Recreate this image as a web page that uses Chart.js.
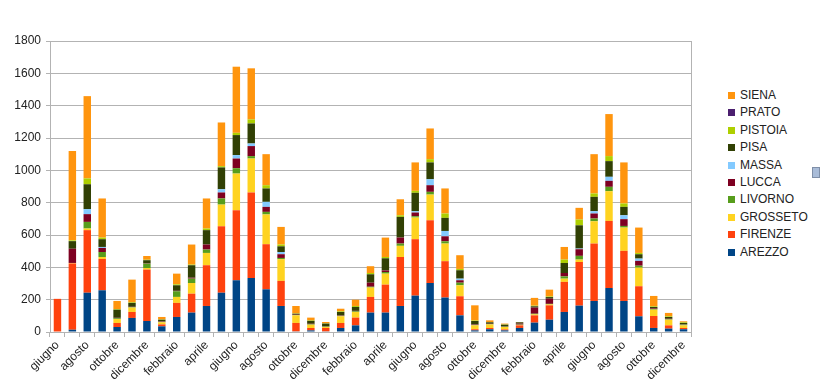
<!DOCTYPE html>
<html lang="it">
<head>
  <meta charset="UTF-8" />
  <title>Province toscane</title>
  <script src="https://cdn.jsdelivr.net/npm/chart.js"></script>
  <style>
    body {
      margin: 0;
      background: #ffffff;
      font-family: 'Liberation Sans', Arial, sans-serif;
    }
    .wrap {
      position: relative;
      width: 820px;
      height: 387px;
      overflow: hidden;
    }
    .chart-box {
      position: absolute;
      left: 0;
      top: 0;
      width: 700px;
      height: 387px;
    }
    .legend {
      position: absolute;
      left: 728px;
      top: 87px;
      list-style: none;
      margin: 0;
      padding: 0;
      font-size: 12px;
      color: #222;
    }
    .legend li {
      height: 17.4px;
      line-height: 17.4px;
      white-space: nowrap;
    }
    .legend span {
      display: inline-block;
      width: 7px;
      height: 7px;
      margin-right: 5px;
      vertical-align: 0px;
    }
    .stray {
      position: absolute;
      left: 812px;
      top: 167px;
      width: 6px;
      height: 9px;
      background: #a9bcd8;
      border: 1px solid #7f8fa8;
    }
  </style>
</head>
<body>
  <div class="wrap">
    <div class="chart-box"><canvas id="chart"></canvas></div>
    <ul class="legend" id="legend"></ul>
    <div class="stray"></div>
  </div>

  <script>
    const months = [
      'giugno', 'luglio', 'agosto', 'settembre', 'ottobre', 'novembre', 'dicembre',
      'gennaio', 'febbraio', 'marzo', 'aprile', 'maggio', 'giugno', 'luglio', 'agosto', 'settembre', 'ottobre', 'novembre', 'dicembre',
      'gennaio', 'febbraio', 'marzo', 'aprile', 'maggio', 'giugno', 'luglio', 'agosto', 'settembre', 'ottobre', 'novembre', 'dicembre',
      'gennaio', 'febbraio', 'marzo', 'aprile', 'maggio', 'giugno', 'luglio', 'agosto', 'settembre', 'ottobre', 'novembre', 'dicembre'
    ];

    const arezzo   = [0,14,243,258,31,87,68, 35,93,120,161,243,320,334,264,161,4,10,4, 25,41,120,120,161,225,303,213,103,10,17,10, 25,58,76,124,163,192,272,192,97,25,21,17];
    const firenze  = [205,410,387,194,25,37,318, 12,87,117,252,411,433,529,279,155,52,15,21, 31,48,97,173,303,349,388,225,118,7,8,6, 16,45,89,186,270,355,415,310,186,74,20,8];
    const grosseto = [0,3,10,12,24,27,10, 13,37,66,76,134,227,210,184,134,47,20,6, 41,35,58,68,69,134,159,109,68,24,22,15, 3,6,6,20,15,138,184,144,115,39,35,16];
    const livorno  = [0,0,41,31,5,3,27, 3,35,27,21,38,33,15,16,8,2,3,3, 4,4,5,10,14,8,17,14,16,3,2,2, 2,4,3,14,23,17,27,10,12,4,3,5];
    const lucca    = [0,88,48,25,3,2,3, 3,3,6,31,37,60,62,31,23,2,3,3, 4,3,25,10,37,23,41,31,15,3,2,2, 6,38,32,21,41,31,37,42,30,4,3,2];
    const massa    = [0,0,31,6,0,0,0, 0,0,0,0,20,21,16,31,14,0,0,0, 0,0,0,0,0,8,37,33,10,0,0,0, 0,0,0,0,4,14,25,24,14,0,0,0];
    const pisa     = [0,47,154,48,50,24,18, 10,34,77,89,135,124,124,83,35,6,18,15, 19,24,52,75,128,114,104,81,52,21,9,10, 8,8,10,62,144,89,97,52,27,9,11,8];
    const pistoia  = [0,5,36,10,4,4,3, 2,6,4,10,8,14,25,20,11,2,3,2, 4,6,8,8,10,12,20,27,8,3,2,2, 0,4,4,21,36,21,31,21,8,4,4,4];
    const prato    = [0,0,0,0,0,0,0, 0,0,0,0,0,0,0,0,0,0,0,0, 0,0,0,0,0,0,0,0,0,0,0,0, 0,0,0,0,0,0,0,0,0,0,0,0];
    const siena    = [0,552,509,242,50,140,23, 15,66,124,186,270,409,316,192,109,46,17,8, 16,39,42,120,99,176,190,155,85,94,10,5, 2,48,42,78,72,243,260,254,157,64,21,6];

    const yTicks = [0, 200, 400, 600, 800, 1000, 1200, 1400, 1600, 1800];

    const series = [
      { label: 'AREZZO',   data: arezzo,   color: '#004586' },
      { label: 'FIRENZE',  data: firenze,  color: '#ff420e' },
      { label: 'GROSSETO', data: grosseto, color: '#ffd320' },
      { label: 'LIVORNO',  data: livorno,  color: '#579d1c' },
      { label: 'LUCCA',    data: lucca,    color: '#7e0021' },
      { label: 'MASSA',    data: massa,    color: '#83caff' },
      { label: 'PISA',     data: pisa,     color: '#314004' },
      { label: 'PISTOIA',  data: pistoia,  color: '#aecf00' },
      { label: 'PRATO',    data: prato,    color: '#4b1f6f' },
      { label: 'SIENA',    data: siena,    color: '#ff950e' }
    ];

    // legend: top to bottom is the reverse of the stack order
    const legendEl = document.getElementById('legend');
    series.slice().reverse().forEach(s => {
      const li = document.createElement('li');
      li.innerHTML = `<span style="background:${s.color}"></span>${s.label}`;
      legendEl.appendChild(li);
    });

    const gridColor = '#b3b3b3';
    const font = { family: "'Liberation Sans', Arial, sans-serif", size: 12 };

    new Chart(document.getElementById('chart'), {
      type: 'bar',
      data: {
        labels: months,
        datasets: series.map(s => ({
          label: s.label,
          data: s.data,
          backgroundColor: s.color,
          borderWidth: 0,
          categoryPercentage: 1,
          barPercentage: 0.5
        }))
      },
      options: {
        responsive: true,
        maintainAspectRatio: false,
        animation: false,
        layout: { padding: { top: 41, right: 9, left: 0, bottom: 0 } },
        plugins: {
          legend: { display: false },
          tooltip: { enabled: false }
        },
        scales: {
          x: {
            stacked: true,
            grid: {
              offset: true,
              drawOnChartArea: false,
              drawTicks: true,
              tickLength: 5,
              color: gridColor
            },
            border: { color: gridColor },
            ticks: {
              autoSkip: false,
              minRotation: 45,
              maxRotation: 45,
              padding: 1,
              color: '#222',
              font: font,
              callback: (v, i) => (i % 2 === 0 ? months[i] : '')
            },
            afterFit: s => { s.height = 55; }
          },
          y: {
            stacked: true,
            min: 0,
            max: 1800,
            afterBuildTicks: s => { s.ticks = yTicks.map(v => ({ value: v })); },
            grid: { color: gridColor, tickLength: 4 },
            border: { color: gridColor },
            ticks: { color: '#222', font: font, padding: 5, callback: v => String(v) },
            afterFit: s => { s.width = 50; }
          },
          y2: {
            position: 'right',
            min: 0,
            max: 1800,
            grid: { drawOnChartArea: false, drawTicks: false },
            border: { color: gridColor },
            ticks: { display: false },
            afterFit: s => { s.width = 0; }
          }
        }
      }
    });
  </script>
</body>
</html>
